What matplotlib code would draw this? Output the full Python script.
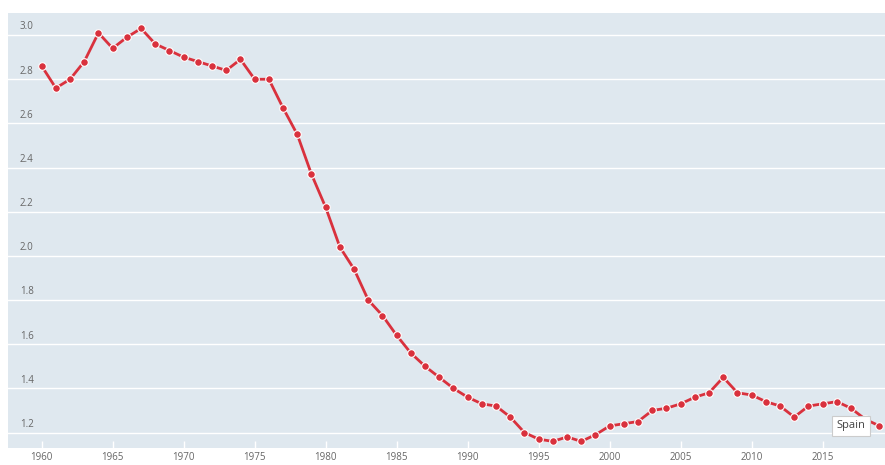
import matplotlib.pyplot as plt
from matplotlib import transforms

plt.rcParams['font.family'] = ['Open Sans', 'DejaVu Sans']

# Spain, fertility rate (births per woman), 1960-2019
years = list(range(1960, 2020))
fertility = [
    2.86, 2.76, 2.80, 2.88, 3.01, 2.94, 2.99, 3.03, 2.96, 2.93,
    2.90, 2.88, 2.86, 2.84, 2.89, 2.80, 2.80, 2.67, 2.55, 2.37,
    2.22, 2.04, 1.94, 1.80, 1.73, 1.64, 1.56, 1.50, 1.45, 1.40,
    1.36, 1.33, 1.32, 1.27, 1.20, 1.17, 1.16, 1.18, 1.16, 1.19,
    1.23, 1.24, 1.25, 1.30, 1.31, 1.33, 1.36, 1.38, 1.45, 1.38,
    1.37, 1.34, 1.32, 1.27, 1.32, 1.33, 1.34, 1.31, 1.26, 1.23,
]
series_name = 'Spain'
x_ticks = list(range(1960, 2020, 5))
y_ticks = [1.2, 1.4, 1.6, 1.8, 2.0, 2.2, 2.4, 2.6, 2.8, 3.0]

fig = plt.figure(figsize=(8.85, 4.65), dpi=100)
ax = fig.add_axes([8 / 885, 17 / 465, 877 / 885, 435 / 465])
ax.set_facecolor('#dfe8ef')

ax.plot(years, fertility, color='#d9313d', lw=2.0, marker='o', ms=5.5,
        mfc='#d9313d', mec='white', mew=0.8, zorder=3, clip_on=False)

ax.set_xlim(1957.63, 2019.39)
ax.set_ylim(1.13, 3.1)

ax.set_yticks(y_ticks)
ax.yaxis.grid(True, color='white', lw=1.0)
ax.set_axisbelow(True)
ax.tick_params(axis='y', left=False, labelleft=False)

trans = transforms.blended_transform_factory(ax.transAxes, ax.transData)
for y in y_ticks:
    ax.text(0.0137, y + 0.012, f'{y:.1f}', transform=trans, ha='left',
            va='bottom', fontsize=7, color='#666666')

ax.set_xticks(x_ticks)
ax.tick_params(axis='x', direction='in', length=5, width=1, color='white',
               labelsize=7, labelcolor='#666666', pad=3)

for s in ax.spines.values():
    s.set_visible(False)

ax.annotate(series_name, xy=(years[-1], fertility[-1]), xytext=(-10, 0),
            textcoords='offset points', ha='right', va='center', fontsize=8,
            color='#444444',
            bbox=dict(boxstyle='square,pad=0.4', fc='white', ec='#cccccc', lw=0.8),
            zorder=4)

fig.savefig('out.png', dpi=100)
